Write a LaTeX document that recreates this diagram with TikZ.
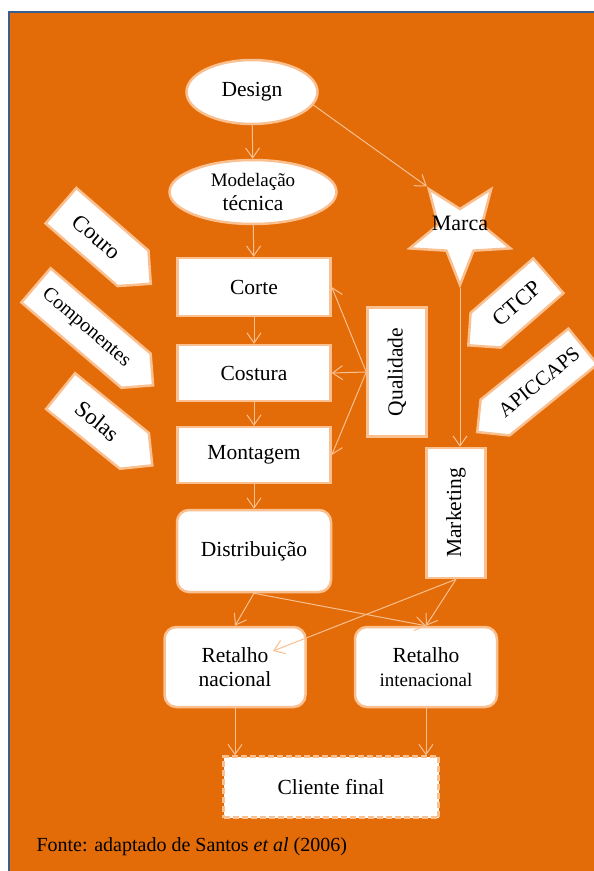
\documentclass[tikz,border=0pt]{standalone}
\usepackage{fontspec}
\setmainfont{Liberation Serif}
\usepackage{graphicx}
\usetikzlibrary{shapes.geometric,shapes.symbols,arrows.meta}

\definecolor{fundo}{HTML}{E36C09}
\definecolor{pessego}{HTML}{FAC090}
\definecolor{moldura}{HTML}{3A5F8F}

\tikzset{
  caixa/.style={draw=pessego, line width=2.5pt, fill=white, inner sep=2pt,
    align=center, font=\fontsize{21.5}{24}\selectfont},
  elipse/.style={caixa, ellipse, inner sep=0pt},
  sinal/.style={caixa, signal, signal from=nowhere, inner sep=0pt},
  seta/.style={draw=pessego, line width=1pt, -{Straight Barb[length=10pt,width=14pt]}},
}

\begin{document}
\begin{tikzpicture}[x=1pt,y=-1pt]
  \useasboundingbox (0,0) rectangle (594,871);

  % Draw background and frame
  \fill[fundo] (9,12) rectangle (594,871);
  \draw[moldura, line width=2.5pt] (9,871) -- (9,12) -- (594,12);

  % Production chain
  \node[elipse, minimum width=131, minimum height=64] (design) at (252,92) {Design};
  \node[elipse, minimum width=167, minimum height=64] (modelacao) at (253,192)
    {\fontsize{19}{25}\selectfont Modelação\\ \fontsize{21.5}{25}\selectfont técnica};
  \node[caixa, minimum width=153, minimum height=58] (corte) at (254,287) {Corte};
  \node[caixa, minimum width=153, minimum height=56] (costura) at (254,373) {Costura};
  \node[caixa, minimum width=153, minimum height=56] (montagem) at (254,455) {Montagem};
  \node[caixa, rounded corners=12pt, minimum width=154, minimum height=82] (distribuicao)
    at (254,551) {Distribuição};

  % Inputs
  \node[sinal, signal to=east, rotate=-41, minimum width=119, minimum height=47] (couro)
    at (97,237) {\fontsize{22.5}{24}\selectfont Couro};
  \node[sinal, signal to=east, rotate=-40.5, minimum width=154, minimum height=45] (componentes)
    at (86,328) {\fontsize{20}{22}\selectfont Componentes};
  \node[sinal, signal to=east, rotate=-39, minimum width=118, minimum height=46] (solas)
    at (97.5,421) {\fontsize{23}{24}\selectfont Solas};

  % Quality, brand and marketing
  \node[caixa, minimum width=59, minimum height=129] (qualidade) at (397,372)
    {\rotatebox{90}{Qualidade}};
  \node[star, star points=5, star point ratio=2.3, shape border rotate=180, minimum size=106,
    inner sep=0pt, draw=pessego, fill=white, line width=2.5pt] (marca) at (460,232) {};
  \node[font=\fontsize{22}{24}\selectfont] (marcatxt) at (460,223) {Marca};
  \node[sinal, signal to=west, rotate=41, minimum width=106, minimum height=46] (ctcp)
    at (517,303) {\fontsize{22.5}{24}\selectfont CTCP};
  \node[sinal, signal to=west, rotate=39, minimum width=136, minimum height=46] (apiccaps)
    at (539,382) {\fontsize{20.5}{22}\selectfont APICCAPS};
  \node[caixa, minimum width=59, minimum height=130] (marketing) at (456,513)
    {\rotatebox{90}{Marketing}};

  % Retail and final client
  \node[caixa, rounded corners=12pt, minimum width=141, minimum height=80] (nacional)
    at (235,667) {Retalho\\nacional};
  \node[caixa, rounded corners=12pt, minimum width=142, minimum height=80] (internacional)
    at (426,667) {Retalho\\ \fontsize{19}{22}\selectfont intenacional};
  \node[caixa, dash pattern=on 6pt off 3pt, minimum width=215, minimum height=61] (cliente)
    at (331,787) {Cliente final};
  \coordinate (nacfim) at (273,651);

  % Connectors
  \draw[seta] (design) -- (modelacao);
  \draw[seta] (modelacao) -- (corte);
  \draw[seta] (corte) -- (costura);
  \draw[seta] (costura) -- (montagem);
  \draw[seta] (montagem) -- (distribuicao);
  \draw[seta] (design.-12) -- (marca.126);
  \draw[seta] (marca.south) -- (marca.south |- marketing.north);
  \draw[seta] (qualidade.west) -- (corte.east);
  \draw[seta] (qualidade.west) -- (costura.east);
  \draw[seta] (qualidade.west) -- (montagem.east);
  \draw[seta] (distribuicao.south) -- (nacional.north);
  \draw[seta] (distribuicao.south) -- (internacional.north);
  \draw[seta] (marketing.south) -- (nacfim);
  \draw[seta] (marketing.south) -- (internacional.north);
  \draw[seta] (nacional.south) -- (nacional.south |- cliente.north);
  \draw[seta] (internacional.south) -- (internacional.south |- cliente.north);

  % Source
  \node[anchor=west, font=\fontsize{20}{22}\selectfont] (fonte) at (33,847)
    {Fonte: adaptado de Santos \textit{et al} (2006)};
\end{tikzpicture}
\end{document}
